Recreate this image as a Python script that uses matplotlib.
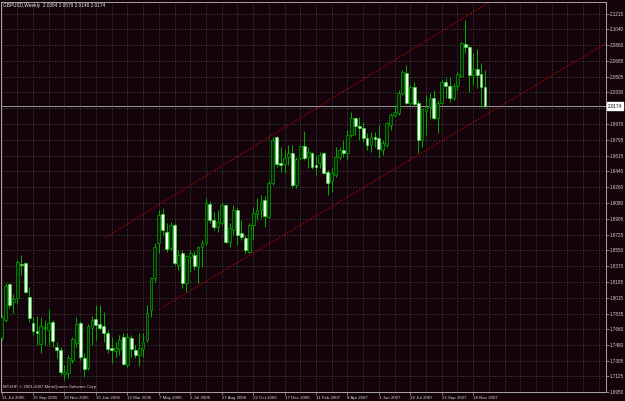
import matplotlib
matplotlib.use("Agg")
import matplotlib.pyplot as plt
from matplotlib.patches import Rectangle
from matplotlib.transforms import blended_transform_factory

plt.rcParams['font.family'] = ['Liberation Sans', 'DejaVu Sans']

symbol_title = "GBPUSD,Weekly  2.0384 2.0579 2.0148 2.0174"
copyright_text = "MT4HF, \u00a9 2001-2007 MetaQuotes Software Corp."

date_labels = ["31 Jul 2005", "25 Sep 2005", "20 Nov 2005", "15 Jan 2006",
               "12 Mar 2006", "7 May 2006", "2 Jul 2006", "27 Aug 2006",
               "22 Oct 2006", "17 Dec 2006", "11 Feb 2007", "8 Apr 2007",
               "3 Jun 2007", "29 Jul 2007", "23 Sep 2007", "18 Nov 2007"]

price_labels = ["2.1215", "2.1040", "2.0860", "2.0685", "2.0505", "2.0330",
                "1.9970", "1.9795", "1.9615", "1.9440", "1.9260", "1.9080",
                "1.8905", "1.8725", "1.8550", "1.8370", "1.8195", "1.8015",
                "1.7835", "1.7660", "1.7480", "1.7305", "1.7125", "1.6950"]
hidden_grid_price = 2.0150

opens = [
    1.7559, 1.7761, 1.8167, 1.7964, 1.8009, 1.8393, 1.8404, 1.8020, 1.7728, 1.7638,
    1.7491, 1.7671, 1.7649, 1.7739, 1.7457, 1.7423, 1.7152, 1.7163, 1.7311, 1.7502,
    1.7728, 1.7333, 1.7220, 1.7671, 1.7773, 1.7716, 1.7694, 1.7615, 1.7446, 1.7412,
    1.7435, 1.7570, 1.7254, 1.7559, 1.7423, 1.7367, 1.7435, 1.7536, 1.7874, 1.8235,
    1.8630, 1.8956, 1.8753, 1.8573, 1.8832, 1.8381, 1.8517, 1.8178, 1.8472, 1.8494,
    1.8359, 1.8584, 1.8630, 1.9069, 1.8889, 1.8810, 1.8855, 1.9058, 1.8641, 1.8776,
    1.9001, 1.8742, 1.8686, 1.8528, 1.8832, 1.8956, 1.9001, 1.9114, 1.8923, 1.9306,
    1.9825, 1.9531, 1.9520, 1.9599, 1.9644, 1.9283, 1.9588, 1.9723, 1.9599, 1.9644,
    1.9509, 1.9531, 1.9644, 1.9430, 1.9328, 1.9396, 1.9599, 1.9678, 1.9644, 1.9847,
    2.0039, 1.9948, 1.9926, 1.9813, 1.9734, 1.9825, 1.9813, 1.9678, 1.9734, 1.9960,
    2.0073, 2.0095, 2.0320, 2.0546, 2.0208, 2.0388, 2.0208, 1.9791, 2.0118, 2.0163,
    2.0264, 2.0039, 2.0208, 2.0444, 2.0399, 2.0264, 2.0399, 2.0512, 2.0873, 2.0839,
    2.0523, 2.0591, 2.0535, 2.0384]

highs = [
    1.7818, 1.8178, 1.8178, 1.8054, 1.8438, 1.8494, 1.8415, 1.8133, 1.7795, 1.7806,
    1.7795, 1.7761, 1.7885, 1.7761, 1.7514, 1.7457, 1.7254, 1.7367, 1.7570, 1.7795,
    1.7750, 1.7390, 1.7716, 1.7806, 1.7930, 1.7930, 1.7851, 1.7649, 1.7570, 1.7514,
    1.7593, 1.7615, 1.7615, 1.7593, 1.7480, 1.7615, 1.7615, 1.7930, 1.8246, 1.8630,
    1.9001, 1.9024, 1.8855, 1.8866, 1.8855, 1.8551, 1.8551, 1.8494, 1.8551, 1.8539,
    1.8596, 1.8663, 1.9137, 1.9103, 1.8979, 1.9001, 1.9080, 1.9069, 1.8855, 1.9058,
    1.9035, 1.8889, 1.8719, 1.8855, 1.9035, 1.9137, 1.9170, 1.9159, 1.9339, 1.9825,
    1.9836, 1.9712, 1.9678, 1.9734, 1.9734, 1.9599, 1.9734, 1.9892, 1.9712, 1.9655,
    1.9621, 1.9655, 1.9655, 1.9452, 1.9486, 1.9712, 1.9712, 1.9791, 1.9903, 2.0106,
    2.0050, 2.0050, 1.9994, 1.9870, 1.9881, 1.9881, 1.9960, 1.9791, 1.9994, 2.0095,
    2.0185, 2.0354, 2.0580, 2.0636, 2.0411, 2.0444, 2.0242, 2.0151, 2.0298, 2.0320,
    2.0354, 2.0242, 2.0467, 2.0490, 2.0501, 2.0433, 2.0557, 2.0895, 2.1143, 2.0862,
    2.0771, 2.0817, 2.0659, 2.0579]

lows = [
    1.7536, 1.7739, 1.7897, 1.7840, 1.7942, 1.8269, 1.8066, 1.7739, 1.7593, 1.7480,
    1.7390, 1.7480, 1.7480, 1.7457, 1.7333, 1.7141, 1.7085, 1.7107, 1.7277, 1.7457,
    1.7311, 1.7118, 1.7197, 1.7480, 1.7536, 1.7649, 1.7514, 1.7390, 1.7277, 1.7344,
    1.7367, 1.7254, 1.7231, 1.7344, 1.7333, 1.7243, 1.7344, 1.7514, 1.7795, 1.8190,
    1.8517, 1.8719, 1.8528, 1.8551, 1.8381, 1.8325, 1.8122, 1.8077, 1.8302, 1.8325,
    1.8178, 1.8359, 1.8607, 1.8855, 1.8776, 1.8753, 1.8832, 1.8630, 1.8584, 1.8719,
    1.8607, 1.8663, 1.8517, 1.8517, 1.8663, 1.8889, 1.8911, 1.8810, 1.8911, 1.9283,
    1.9486, 1.9430, 1.9418, 1.9509, 1.9249, 1.9249, 1.9565, 1.9565, 1.9475, 1.9463,
    1.9396, 1.9475, 1.9407, 1.9170, 1.9204, 1.9373, 1.9565, 1.9599, 1.9565, 1.9825,
    1.9847, 1.9791, 1.9768, 1.9678, 1.9655, 1.9712, 1.9599, 1.9621, 1.9712, 1.9903,
    2.0050, 2.0073, 2.0298, 2.0196, 2.0185, 2.0185, 1.9644, 1.9712, 1.9847, 2.0039,
    2.0016, 1.9870, 2.0185, 2.0264, 2.0219, 2.0242, 2.0354, 2.0501, 2.0771, 2.0332,
    2.0411, 2.0377, 2.0163, 2.0148]

closes = [
    1.7795, 1.8144, 1.7930, 1.7998, 1.8415, 1.8387, 1.8077, 1.7784, 1.7638, 1.7615,
    1.7694, 1.7683, 1.7728, 1.7525, 1.7423, 1.7175, 1.7175, 1.7333, 1.7547, 1.7716,
    1.7344, 1.7209, 1.7694, 1.7761, 1.7705, 1.7671, 1.7615, 1.7435, 1.7423, 1.7446,
    1.7536, 1.7265, 1.7570, 1.7435, 1.7367, 1.7446, 1.7514, 1.7840, 1.8235, 1.8584,
    1.8945, 1.8776, 1.8562, 1.8832, 1.8404, 1.8494, 1.8178, 1.8483, 1.8517, 1.8370,
    1.8584, 1.8630, 1.9080, 1.8889, 1.8810, 1.8866, 1.9058, 1.8641, 1.8798, 1.9001,
    1.8719, 1.8697, 1.8551, 1.8832, 1.8968, 1.9001, 1.9092, 1.8934, 1.9306, 1.9791,
    1.9520, 1.9509, 1.9588, 1.9644, 1.9283, 1.9576, 1.9723, 1.9588, 1.9655, 1.9486,
    1.9486, 1.9621, 1.9418, 1.9306, 1.9418, 1.9599, 1.9678, 1.9644, 1.9847, 2.0039,
    1.9948, 1.9926, 1.9813, 1.9734, 1.9825, 1.9802, 1.9689, 1.9757, 1.9982, 2.0073,
    2.0106, 2.0320, 2.0557, 2.0208, 2.0388, 2.0196, 1.9791, 2.0140, 2.0163, 2.0264,
    2.0039, 2.0208, 2.0444, 2.0399, 2.0264, 2.0399, 2.0535, 2.0884, 2.0839, 2.0523,
    2.0591, 2.0523, 2.0384, 2.0174]

# channel trend lines (bar index, price) anchors
upper_line_x = [26.2, 124.9]
upper_line_y = [1.8686, 2.1369]
lower_line_x = [41.1, 153.9]
lower_line_y = [1.7911, 2.0884]

BG = "#14030a"
GRID = "#4c6656"
WICK = "#00a800"
BULL_FACE = "#062406"
BEAR_FACE = "#eaffea"
TXT = "#d4d4d4"
FRAME = "#a8a8a8"

fig = plt.figure(figsize=(6.25, 4.01), dpi=100, facecolor=BG)
ax = fig.add_axes([1 / 625, 9 / 401, 605 / 625, 390 / 401], facecolor=BG)
n_bars = len(closes)
ax.set_xlim(-0.15, 153.8)
ax.set_ylim(1.6950, 2.1347)

# grid
for s in price_labels:
    ax.axhline(float(s), color=GRID, lw=0.6, ls=(0, (1, 2.2)), zorder=0)
ax.axhline(hidden_grid_price, color=GRID, lw=0.6, ls=(0, (1, 2.2)), zorder=0)
for gx in range(0, 154, 4):
    ax.axvline(gx, color=GRID, lw=0.6, ls=(0, (1, 2.2)), zorder=0)

# channel lines
ax.plot(upper_line_x, upper_line_y, color="#9a0606", lw=0.8, ls=(0, (1.5, 1.2)), zorder=1)
ax.plot(lower_line_x, lower_line_y, color="#9a0606", lw=0.8, ls=(0, (1.5, 1.2)), zorder=1)

# current price line
ax.axhline(closes[-1], color="#9a9a9a", lw=0.7, zorder=1)

# candles
w = 0.72
for i in range(n_bars):
    o, h, l, c = opens[i], highs[i], lows[i], closes[i]
    ax.vlines(i, l, h, color=WICK, lw=0.75, zorder=2)
    bottom = min(o, c)
    height = max(abs(c - o), 0.0006)
    face = BULL_FACE if c > o else BEAR_FACE
    edge = "#00b400" if c > o else "#30e030"
    ax.add_patch(Rectangle((i - w / 2, bottom), w, height, facecolor=face,
                           edgecolor=edge, lw=0.45, zorder=3))

# axes styling
for sp in ax.spines.values():
    sp.set_color(FRAME)
    sp.set_linewidth(0.7)

ax.yaxis.tick_right()
ax.set_yticks([float(s) for s in price_labels])
ax.set_yticklabels(price_labels)
ax.tick_params(axis="y", colors=FRAME, labelcolor=TXT, labelsize=3.3,
               length=2, width=0.5, pad=1)

ax.set_xticks(list(range(0, 8 * len(date_labels), 8)))
ax.set_xticklabels(date_labels)
for lbl in ax.get_xticklabels():
    lbl.set_horizontalalignment("left")
ax.tick_params(axis="x", colors=FRAME, labelcolor=TXT, labelsize=3.2,
               length=2, width=0.5, pad=0.8)

# current price box
trans = blended_transform_factory(ax.transAxes, ax.transData)
ax.text(1.0 + 2 / 605, closes[-1], f"{closes[-1]:.4f}", transform=trans,
        ha="left", va="center", fontsize=3.3, color="black",
        bbox=dict(boxstyle="square,pad=0.25", fc="white", ec="white"),
        clip_on=False, zorder=5)

# texts
fig.text(3 / 625, 1 - 2.5 / 401, symbol_title, ha="left", va="top",
         fontsize=3.4, color="#ececec")
ax.text(0.003, 5 / 390, copyright_text, transform=ax.transAxes,
        ha="left", va="center", fontsize=3.1, color=TXT, zorder=6)

fig.savefig("out.png", dpi=100, facecolor=BG)
